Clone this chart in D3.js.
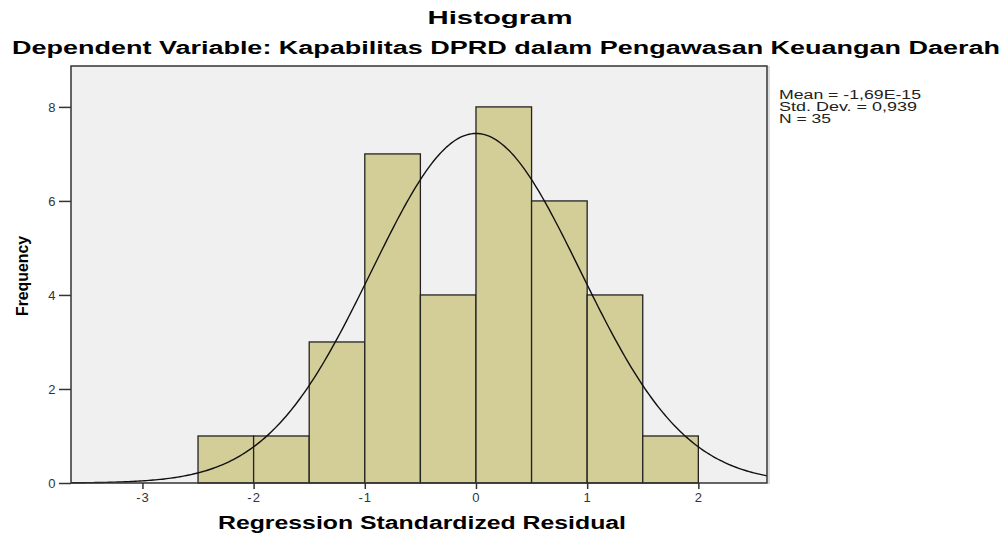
<!DOCTYPE html>
<html><head><meta charset="utf-8">
<script src="https://cdn.jsdelivr.net/npm/d3@7"></script>
<style>body{margin:0;background:#fff}svg{display:block}text{font-family:"Liberation Sans",Arial,sans-serif}</style>
</head><body>
<svg id="c" width="1007" height="535"></svg>
<script>
const binStarts = [-2.5, -2.0, -1.5, -1.0, -0.5, 0.0, 0.5, 1.0, 1.5];
const binWidth = 0.5;
const counts = [1, 1, 3, 7, 4, 8, 6, 4, 1];
const xTicks = [-3, -2, -1, 0, 1, 2];
const yTicks = [0, 2, 4, 6, 8];
const statMean = -1.69e-15, statSD = 0.939, statN = 35;
const legendLines = ["Mean = -1,69E-15", "Std. Dev. = 0,939", "N = 35"];
const legendWidths = [142, 138, 52];

const svg = d3.select("#c");
const L = 71, R = 767, T = 66, B = 483;
const x = d3.scaleLinear().domain([-3.6425, 2.6175]).range([L, R]);
const y = d3.scaleLinear().domain([0, 8.87]).range([B, T]);

svg.append("rect").attr("x", L).attr("y", T).attr("width", R - L).attr("height", B - T).attr("fill", "#f0f0f0");

svg.append("g").selectAll("rect").data(counts).join("rect")
  .attr("x", (d, i) => x(binStarts[i]))
  .attr("y", d => y(d))
  .attr("width", (d, i) => x(binStarts[i] + binWidth) - x(binStarts[i]))
  .attr("height", d => y(0) - y(d))
  .attr("fill", "#d3ce97").attr("stroke", "#222").attr("stroke-width", 1.3);

// normal curve derived from the reported mean / sd / N
const pts = d3.range(x.domain()[0], x.domain()[1] + 0.001, 0.02);
const pdf = v => statN * binWidth / (statSD * Math.sqrt(2 * Math.PI)) * Math.exp(-0.5 * ((v - statMean) / statSD) ** 2);
svg.append("path").datum(pts)
  .attr("d", d3.line().x(d => x(d)).y(d => y(pdf(d))))
  .attr("fill", "none").attr("stroke", "#111").attr("stroke-width", 1.4);

// frame
svg.append("rect").attr("x", L).attr("y", T).attr("width", R - L).attr("height", B - T)
  .attr("fill", "none").attr("stroke", "#333").attr("stroke-width", 1.5);
svg.append("line").attr("x1", R + 2).attr("x2", R + 2).attr("y1", T).attr("y2", B + 1).attr("stroke", "#bbb").attr("stroke-width", 1);

const ya = svg.append("g").attr("transform", `translate(${L},0)`)
  .call(d3.axisLeft(y).tickValues(yTicks).tickSize(12).tickPadding(3).tickFormat(d3.format("d")));
ya.select(".domain").remove();
ya.selectAll("line").attr("stroke", "#333").attr("stroke-width", 1.5);
ya.selectAll("text").attr("font-size", 13).attr("fill", "#333").attr("letter-spacing", 0.5);

const xa = svg.append("g").attr("transform", `translate(0,${B})`)
  .call(d3.axisBottom(x).tickValues(xTicks).tickSize(6).tickPadding(4).tickFormat(d => String(d)));
xa.select(".domain").remove();
xa.selectAll("line").attr("stroke", "#333").attr("stroke-width", 1.5);
xa.selectAll("text").attr("font-size", 13).attr("fill", "#333").attr("letter-spacing", 1);

svg.append("text").attr("x", 500).attr("y", 24).attr("text-anchor", "middle")
  .attr("font-size", 18).attr("font-weight", "bold")
  .attr("textLength", 145).attr("lengthAdjust", "spacingAndGlyphs").text("Histogram");
svg.append("text").attr("x", 506).attr("y", 54).attr("text-anchor", "middle")
  .attr("font-size", 18).attr("font-weight", "bold")
  .attr("textLength", 988).attr("lengthAdjust", "spacingAndGlyphs")
  .text("Dependent Variable: Kapabilitas DPRD dalam Pengawasan Keuangan Daerah");
svg.append("text").attr("x", 422).attr("y", 529).attr("text-anchor", "middle")
  .attr("font-size", 18).attr("font-weight", "bold")
  .attr("textLength", 408).attr("lengthAdjust", "spacingAndGlyphs").text("Regression Standardized Residual");
svg.append("text").attr("transform", "translate(28,276) rotate(-90)").attr("text-anchor", "middle")
  .attr("font-size", 16).attr("font-weight", "bold").attr("textLength", 80).attr("lengthAdjust", "spacingAndGlyphs").text("Frequency");

svg.append("g").selectAll("text").data(legendLines).join("text")
  .attr("x", 779).attr("y", (d, i) => 99 + i * 12)
  .attr("font-size", 12).attr("fill", "#222")
  .attr("textLength", (d, i) => legendWidths[i]).attr("lengthAdjust", "spacingAndGlyphs")
  .text(d => d);
</script>
</body></html>
